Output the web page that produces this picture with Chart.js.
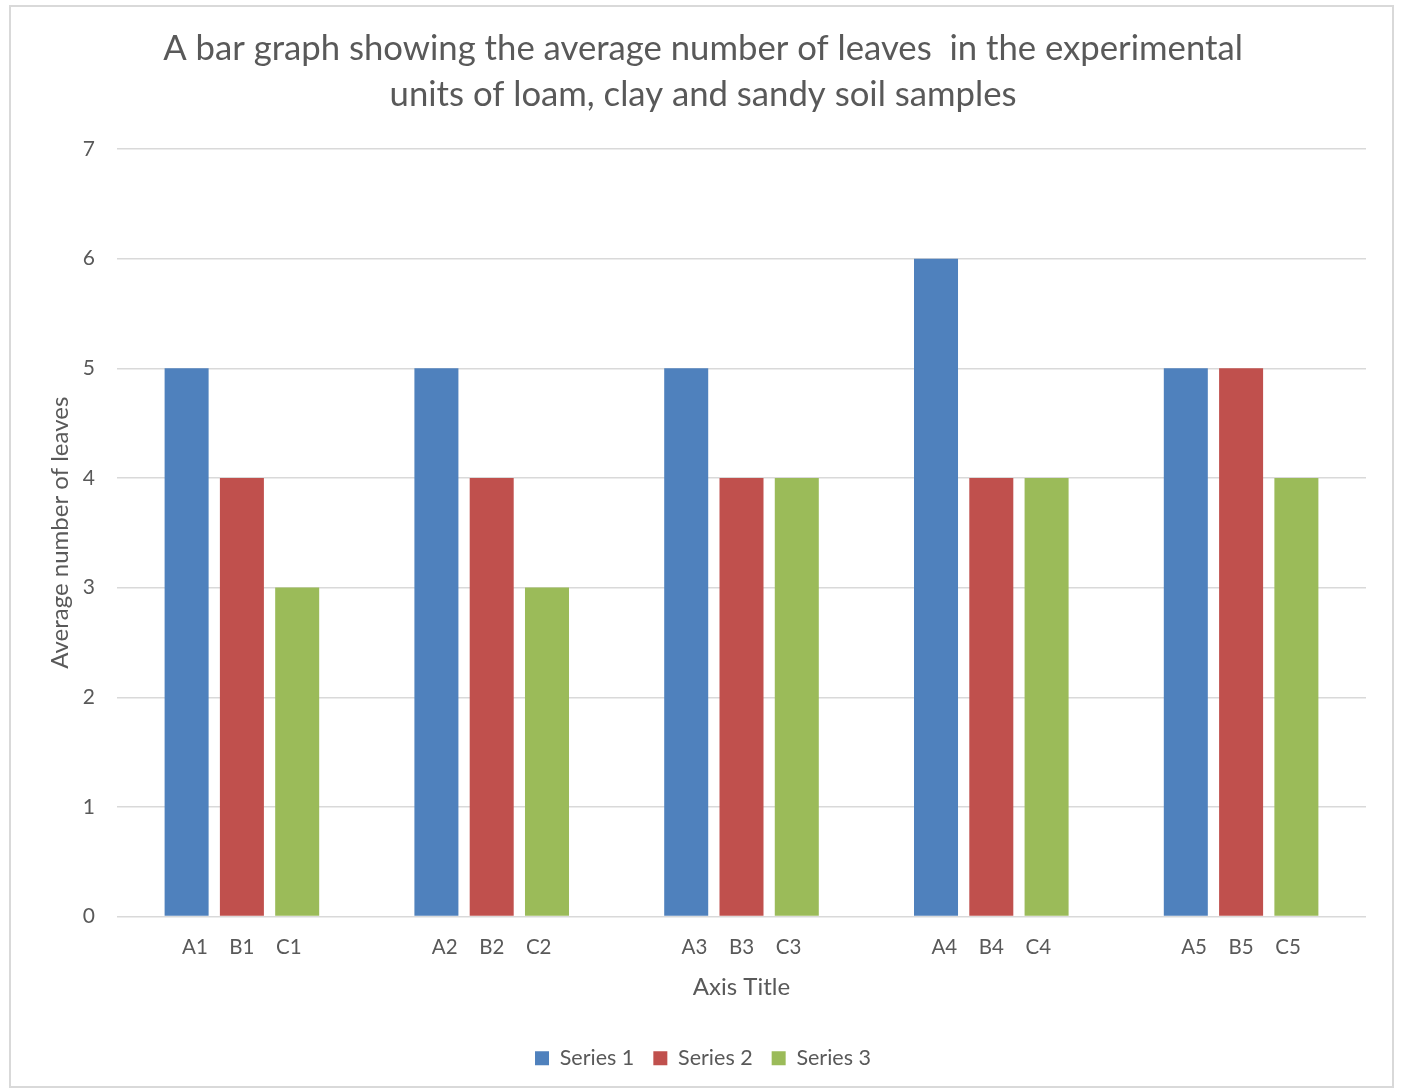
<!DOCTYPE html>
<html>
<head>
<meta charset="utf-8">
<script src="https://cdn.jsdelivr.net/npm/chart.js@4"></script>
<style>
  html, body { margin: 0; padding: 0; background: #ffffff; }
  #frame {
    position: absolute; left: 9px; top: 5px; width: 1385px; height: 1083px;
    border: 2px solid #d9d9d9; box-sizing: border-box;
  }
  #wrap { position: absolute; left: 0; top: 0; width: 1403px; height: 1090px; }
</style>
</head>
<body>
<div id="frame"></div>
<div id="wrap"><canvas id="chart"></canvas></div>
<script>
// Experimental groups 1–5; each group has one bar per soil sample
const groups = ['1', '2', '3', '4', '5'];
const seriesNames = ['Series 1', 'Series 2', 'Series 3'];
const series1 = [5, 5, 5, 6, 5];
const series2 = [4, 4, 4, 4, 5];
const series3 = [3, 3, 4, 4, 4];
// Sample labels printed in a row under each group
const barLabels = [
  ['A1', 'A2', 'A3', 'A4', 'A5'],
  ['B1', 'B2', 'B3', 'B4', 'B5'],
  ['C1', 'C2', 'C3', 'C4', 'C5']
];
const yTicks = [0, 1, 2, 3, 4, 5, 6, 7];
const titleLines = [
  'A bar graph showing the average number of leaves  in the experimental',
  'units of loam, clay and sandy soil samples'
];

const FONT = 'Lato, "Open Sans", sans-serif';
const TEXT = '#595959';

// Draws the sample labels beneath each category, centred on the category
const barLabelPlugin = {
  id: 'barLabels',
  afterDatasetsDraw(chart) {
    const ctx = chart.ctx;
    const xScale = chart.scales.x;
    const step = 47;
    ctx.save();
    ctx.font = '20.5px ' + FONT;
    ctx.fillStyle = TEXT;
    ctx.textAlign = 'center';
    ctx.textBaseline = 'middle';
    const y = chart.chartArea.bottom + 31;
    const n = barLabels.length;
    groups.forEach((g, j) => {
      const cx = xScale.getPixelForValue(j);
      for (let i = 0; i < n; i++) {
        ctx.fillText(barLabels[i][j], cx + (i - (n - 1) / 2) * step, y);
      }
    });
    ctx.restore();
  }
};

const colors = ['#4F81BD', '#C0504D', '#9BBB59'];
const values = [series1, series2, series3];

new Chart(document.getElementById('chart'), {
  type: 'bar',
  data: {
    labels: groups,
    datasets: values.map((v, i) => ({
      label: seriesNames[i],
      data: v,
      backgroundColor: colors[i],
      borderWidth: 0,
      categoryPercentage: 0.664,
      barPercentage: 0.796
    }))
  },
  plugins: [barLabelPlugin],
  options: {
    responsive: true,
    maintainAspectRatio: false,
    animation: false,
    layout: { padding: { left: 40, right: 37, top: 0, bottom: 11 } },
    plugins: {
      title: {
        display: true,
        text: titleLines,
        color: TEXT,
        font: { family: FONT, size: 34.7, weight: 'normal', lineHeight: 1.3256 },
        padding: { top: 26, bottom: 31 }
      },
      legend: {
        position: 'bottom',
        labels: {
          color: TEXT,
          font: { family: FONT, size: 21.5 },
          boxWidth: 14,
          boxHeight: 14,
          padding: 19
        }
      },
      tooltip: { enabled: false }
    },
    scales: {
      x: {
        grid: { display: false },
        border: { display: false },
        ticks: { display: false },
        title: {
          display: true,
          text: 'Axis Title',
          color: TEXT,
          font: { family: FONT, size: 24 },
          padding: { top: 0, bottom: 27 }
        },
        afterFit(scale) { scale.height = 112; }
      },
      y: {
        min: 0,
        max: 7,
        afterBuildTicks(scale) { scale.ticks = yTicks.map(v => ({ value: v })); },
        grid: { color: '#d9d9d9', lineWidth: 1.4, drawTicks: false },
        border: { display: false },
        ticks: {
          color: TEXT,
          font: { family: FONT, size: 21 },
          padding: 22
        },
        title: {
          display: true,
          text: 'Average number of leaves',
          color: TEXT,
          font: { family: FONT, size: 24 },
          padding: { top: 6, bottom: 0 }
        },
        afterFit(scale) { scale.width = 77; }
      }
    }
  }
});
</script>
</body>
</html>
